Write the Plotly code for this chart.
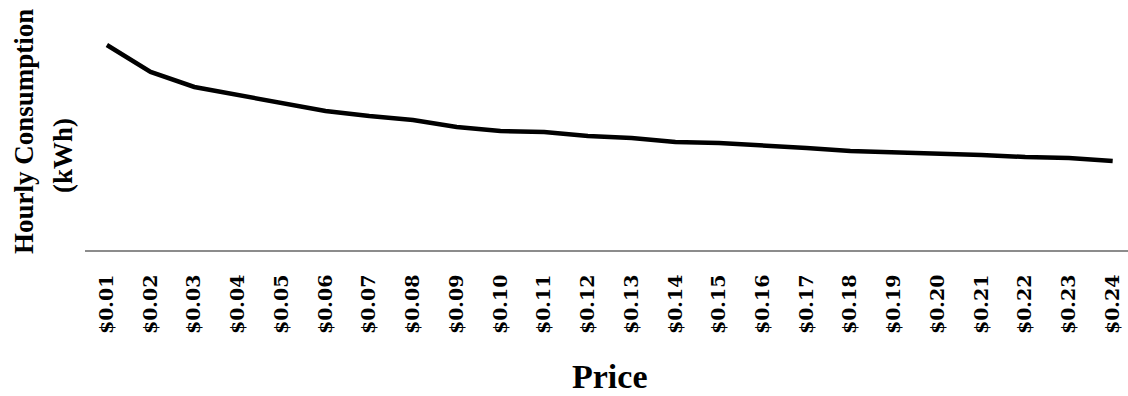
import plotly.graph_objects as go

# Price points (USD per kWh) and the modelled hourly consumption at each price
prices = [f"${p / 100:.2f}" for p in range(1, 25)]
consumption_kwh = [2.05, 1.78, 1.63, 1.55, 1.47, 1.39, 1.34, 1.30, 1.23, 1.19,
                   1.18, 1.14, 1.12, 1.08, 1.07, 1.05, 1.02, 0.99, 0.98, 0.97,
                   0.95, 0.93, 0.92, 0.89]

W, H = 1128, 396
ML, MR, MT, MB = 85, 0, 0, 146
plot_w = W - ML - MR
plot_h = H - MT - MB

fig = go.Figure(
    go.Scatter(
        x=prices,
        y=consumption_kwh,
        mode="lines",
        line=dict(color="#000000", width=4.5),
        hoverinfo="x+y",
    )
)

serif = "Liberation Serif, Times New Roman, serif"


def px_x(px):
    return (px - ML) / plot_w


def px_y(py):
    return (MT + plot_h - py) / plot_h


fig.update_layout(
    width=W,
    height=H,
    margin=dict(l=ML, r=MR, t=MT, b=MB),
    paper_bgcolor="white",
    plot_bgcolor="white",
    showlegend=False,
    xaxis=dict(
        type="category",
        range=[-0.5, 23.35],
        showline=True,
        linecolor="#8c8c8c",
        linewidth=2,
        showgrid=False,
        zeroline=False,
        ticks="",
        tickangle=-90,
        ticklabelstandoff=15,
        tickfont=dict(family="DejaVu Serif, serif", size=19, color="#000000",
                      weight="bold"),
    ),
    yaxis=dict(
        range=[0, 2.5],
        visible=False,
        showgrid=False,
        zeroline=False,
    ),
    annotations=[
        dict(
            text="<b>Hourly Consumption</b>",
            xref="paper", yref="paper",
            x=px_x(24), y=px_y(132),
            xanchor="center", yanchor="middle",
            textangle=-90, showarrow=False,
            font=dict(family=serif, size=27, color="#000000"),
        ),
        dict(
            text="<b>(kWh)</b>",
            xref="paper", yref="paper",
            x=px_x(63), y=px_y(156),
            xanchor="center", yanchor="middle",
            textangle=-90, showarrow=False,
            font=dict(family=serif, size=27, color="#000000"),
        ),
        dict(
            text="<b>Price</b>",
            xref="paper", yref="paper",
            x=px_x(610), y=px_y(376),
            xanchor="center", yanchor="middle",
            showarrow=False,
            font=dict(family=serif, size=34, color="#000000"),
        ),
    ],
)

fig.write_html("out.html")
